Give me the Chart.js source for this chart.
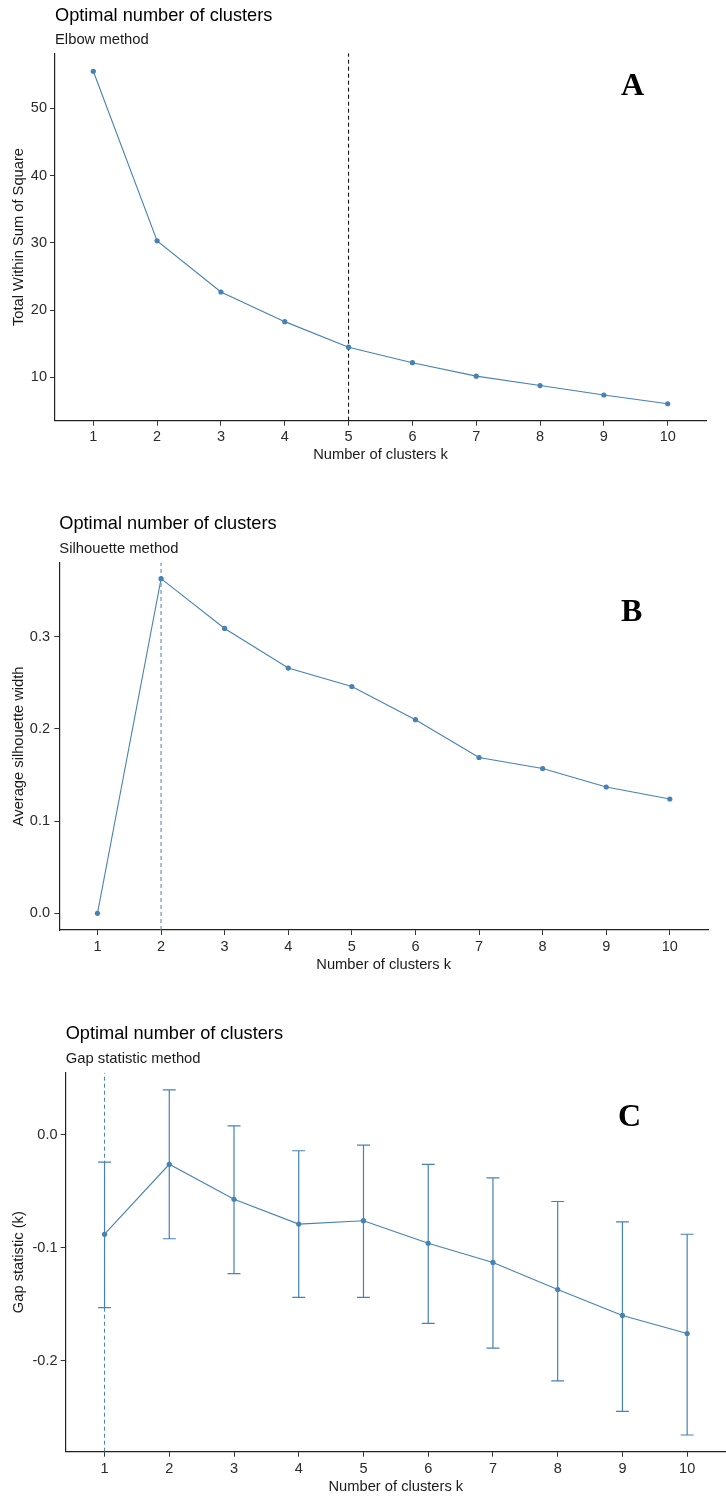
<!DOCTYPE html>
<html><head><meta charset="utf-8">
<script src="https://cdn.jsdelivr.net/npm/chart.js@4"></script>
<style>
html,body{margin:0;padding:0;background:#fff;overflow:hidden;width:726px;height:1497px;position:relative;}
canvas{position:absolute;left:0;}
</style></head><body>
<canvas id="cA" width="726" height="480" style="top:0px"></canvas>
<canvas id="cB" width="726" height="510" style="top:480px"></canvas>
<canvas id="cC" width="730" height="507" style="top:990px"></canvas>
<script>
// ---- data ----
const kValues = [1, 2, 3, 4, 5, 6, 7, 8, 9, 10];

const elbowWSS = [55.5, 30.3, 22.7, 18.3, 14.5, 12.2, 10.2, 8.8, 7.4, 6.1];
const elbowOptimalK = 5;
const elbowYTicks = [10, 20, 30, 40, 50];

const silhouetteWidth = [0, 0.363, 0.309, 0.266, 0.246, 0.210, 0.169, 0.157, 0.137, 0.124];
const silhouetteOptimalK = 2;
const silhouetteYTicks = [0, 0.1, 0.2, 0.3];

const gapStat  = [-0.088, -0.026, -0.057, -0.079, -0.076, -0.096, -0.113, -0.137, -0.160, -0.176];
const gapUpper = [-0.024, 0.040, 0.008, -0.014, -0.009, -0.026, -0.038, -0.059, -0.077, -0.088];
const gapLower = [-0.153, -0.092, -0.123, -0.144, -0.144, -0.167, -0.189, -0.218, -0.245, -0.266];
const gapOptimalK = 1;
const gapYTicks = [-0.2, -0.1, 0.0];

const mainTitle = 'Optimal number of clusters';
const xAxisTitle = 'Number of clusters k';

// ---- styling ----
const BLUE = '#4682B4';
const INK = '#1a1a1a';
const SANS = "'Liberation Sans', Arial, Helvetica, sans-serif";
const SERIF = "'Liberation Serif', 'Times New Roman', serif";
Chart.defaults.font.family = SANS;

const TICK_LEN = 5, TICK_FONT = 14.5, AXT_FONT = 14.7, LH = 1.2;

function build(p) {
  const canvas = document.getElementById(p.id);
  const H = canvas.height, W = canvas.width, T = p.top;
  const a = p.area;
  const ctxDecor = {
    id: 'decor',
    beforeDatasetsDraw(chart) {
      if (!p.lower) return;
      const xs = chart.scales.x, ys = chart.scales.y, ctx = chart.ctx;
      ctx.save();
      ctx.strokeStyle = BLUE;
      ctx.lineWidth = 1.2;
      kValues.forEach((k, i) => {
        const px = xs.getPixelForValue(k);
        const hw = xs.getPixelForValue(k + 0.1) - px;
        const yt = ys.getPixelForValue(p.upper[i]);
        const yb = ys.getPixelForValue(p.lower[i]);
        ctx.beginPath();
        ctx.moveTo(px, yt); ctx.lineTo(px, yb);
        ctx.moveTo(px - hw, yt); ctx.lineTo(px + hw, yt);
        ctx.moveTo(px - hw, yb); ctx.lineTo(px + hw, yb);
        ctx.stroke();
      });
      ctx.restore();
    },
    afterDraw(chart) {
      const ctx = chart.ctx, ca = chart.chartArea;
      ctx.save();
      ctx.fillStyle = '#000';
      ctx.textAlign = 'left';
      ctx.textBaseline = 'alphabetic';
      ctx.font = `18.2px ${SANS}`;
      ctx.fillText(mainTitle, ca.left, p.titleBase - T);
      ctx.fillStyle = INK;
      ctx.font = `14.8px ${SANS}`;
      ctx.fillText(p.subtitle, ca.left, p.subBase - T);
      ctx.fillStyle = '#000';
      ctx.font = `bold 32px ${SERIF}`;
      ctx.fillText(p.letter, p.letterX, p.letterBase - T);
      ctx.restore();
    }
  };

  const data = {
    datasets: [
      {
        data: p.values.map((v, i) => ({x: kValues[i], y: v})),
        borderColor: BLUE, backgroundColor: BLUE, borderWidth: 1.1,
        pointRadius: 2.6, pointBorderWidth: 0, pointBackgroundColor: BLUE,
        tension: 0, order: 1
      },
      {
        data: [{x: p.optimalK, y: p.yMin}, {x: p.optimalK, y: p.yMax}],
        borderColor: p.vlineColor, borderWidth: 1, borderDash: [4, 3],
        pointRadius: 0, order: 2
      }
    ]
  };

  const xPad = p.xTickC - a.bottom - TICK_LEN - TICK_FONT * LH / 2;
  const yPad = a.left - TICK_LEN - p.yLabelRight;
  const xTitlePb = (T + H) - p.xTitleC - AXT_FONT * LH / 2;
  const yTitlePt = p.yTitleX - AXT_FONT * LH / 2;

  return new Chart(canvas, {
    type: 'line',
    data,
    plugins: [ctxDecor],
    options: {
      responsive: false, animation: false, devicePixelRatio: 1,
      layout: {padding: {left: 0, top: a.top - T, right: W - a.right, bottom: 0}},
      plugins: {legend: {display: false}, tooltip: {enabled: false}, title: {display: false}},
      scales: {
        x: {
          type: 'linear', min: 0.4, max: 10.6,
          afterBuildTicks: s => { s.ticks = kValues.map(v => ({value: v})); },
          afterFit: s => { s.height = (T + H) - a.bottom; },
          grid: {display: true, drawOnChartArea: false, drawTicks: true, tickLength: TICK_LEN, color: '#333', lineWidth: 1},
          border: {display: true, color: '#222', width: 1.2},
          ticks: {font: {size: TICK_FONT}, color: '#2a2a2a', padding: xPad, maxRotation: 0, autoSkip: false,
                  callback: v => String(v)},
          title: {display: true, text: xAxisTitle, font: {size: AXT_FONT}, color: INK, padding: {top: 0, bottom: xTitlePb}}
        },
        y: {
          type: 'linear', min: p.yMin, max: p.yMax,
          afterBuildTicks: s => { s.ticks = p.yTicks.map(v => ({value: v})); },
          afterFit: s => { s.width = a.left; },
          grid: {display: true, drawOnChartArea: false, drawTicks: true, tickLength: TICK_LEN, color: '#333', lineWidth: 1},
          border: {display: true, color: '#222', width: 1.2},
          ticks: {font: {size: TICK_FONT}, color: '#2a2a2a', padding: yPad, autoSkip: false,
                  callback: v => Number(v).toFixed(p.decimals)},
          title: {display: true, text: p.yTitle, font: {size: AXT_FONT}, color: INK, padding: {top: yTitlePt, bottom: 0}}
        }
      }
    }
  });
}

build({
  id: 'cA', top: 0,
  area: {left: 55, right: 706, top: 53.3, bottom: 420.7},
  yMin: 3.58, yMax: 58.17, yTicks: elbowYTicks, decimals: 0,
  values: elbowWSS, optimalK: elbowOptimalK, vlineColor: '#000',
  subtitle: 'Elbow method', yTitle: 'Total Within Sum of Square',
  titleBase: 20.5, subBase: 44, xTickC: 436.7, xTitleC: 454.7, yTitleX: 18.8, yLabelRight: 47,
  letter: 'A', letterX: 621, letterBase: 95
});

build({
  id: 'cB', top: 480,
  area: {left: 59.3, right: 708, top: 562.7, bottom: 930},
  yMin: -0.0181, yMax: 0.3803, yTicks: silhouetteYTicks, decimals: 1,
  values: silhouetteWidth, optimalK: silhouetteOptimalK, vlineColor: BLUE,
  subtitle: 'Silhouette method', yTitle: 'Average silhouette width',
  titleBase: 529.3, subBase: 552.7, xTickC: 946.7, xTitleC: 964.7, yTitleX: 19, yLabelRight: 50,
  letter: 'B', letterX: 621, letterBase: 620.7
});

build({
  id: 'cC', top: 990,
  area: {left: 65.7, right: 727.4, top: 1072.7, bottom: 1451.7},
  yMin: -0.2808, yMax: 0.0552, yTicks: gapYTicks, decimals: 1,
  values: gapStat, upper: gapUpper, lower: gapLower, optimalK: gapOptimalK, vlineColor: BLUE,
  subtitle: 'Gap statistic method', yTitle: 'Gap statistic (k)',
  titleBase: 1039.3, subBase: 1062.7, xTickC: 1468.7, xTitleC: 1487, yTitleX: 19, yLabelRight: 57.5,
  letter: 'C', letterX: 618, letterBase: 1126
});
</script>
</body></html>
